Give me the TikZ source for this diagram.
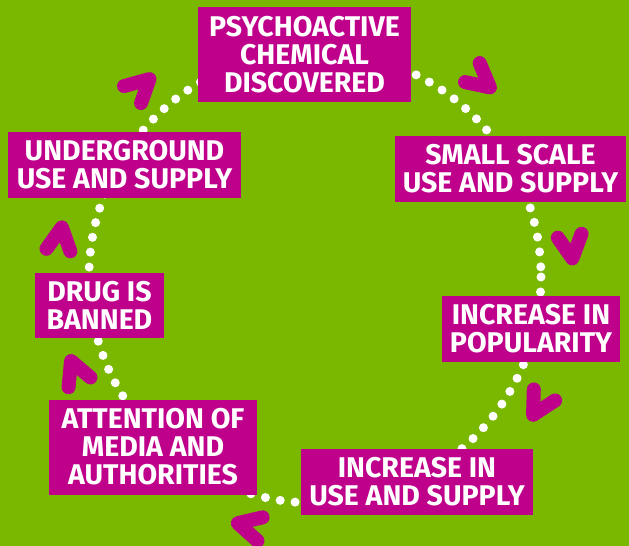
\documentclass[tikz,border=0pt]{standalone}
\usepackage{fontspec}
\setmainfont{Fira Sans}
\usepackage{tikz}
\definecolor{cyclegreen}{RGB}{122,184,0}
\definecolor{cyclepink}{RGB}{190,0,138}

\begin{document}
\begin{tikzpicture}[x=1pt,y=-1pt,
    stage/.style={fill=cyclepink,text=white,align=center,inner sep=0pt,
      font=\fontsize{28.5}{28}\selectfont\bfseries},
    dots/.style={draw=white,line width=9pt,line cap=round,dash pattern=on 0pt off 15pt},
    chevron/.style={draw=cyclepink,line width=14pt,line cap=round,line join=round}]
  \useasboundingbox (0,0) rectangle (629,546);
  \fill[cyclegreen] (0,0) rectangle (629,546);
  \coordinate (ctr) at (315,277);
  % dotted ring behind the stages
  \draw[dots] (ctr) circle[radius=226];
  % chevrons, clockwise
  \foreach \a in {-132.7,-50.1,-6.9,29.5,104.6,158.2,188.3}
    \draw[chevron,shift={(ctr)}] (\a-2.3:246) -- (\a+2.8:258) -- (\a-2.3:270);
  % stages
  \node[stage,minimum width=213pt,minimum height=95pt] (discovered) at (304.5,54.5)
    {PSYCHOACTIVE\\CHEMICAL\\DISCOVERED};
  \node[stage,minimum width=231pt,minimum height=66pt] (smallscale) at (510.5,169)
    {SMALL SCALE\\USE AND SUPPLY};
  \node[stage,minimum width=178pt,minimum height=66pt] (popularity) at (531,329)
    {INCREASE IN\\POPULARITY};
  \node[stage,minimum width=232pt,minimum height=66pt] (increase) at (417,482)
    {INCREASE IN\\USE AND SUPPLY};
  \node[stage,minimum width=208pt,minimum height=95pt] (attention) at (153,447)
    {ATTENTION OF\\MEDIA AND\\AUTHORITIES};
  \node[stage,minimum width=129pt,minimum height=65pt] (banned) at (99.5,305)
    {DRUG IS\\BANNED};
  \node[stage,minimum width=233pt,minimum height=66pt] (underground) at (124.5,165)
    {UNDERGROUND\\USE AND SUPPLY};
\end{tikzpicture}
\end{document}
